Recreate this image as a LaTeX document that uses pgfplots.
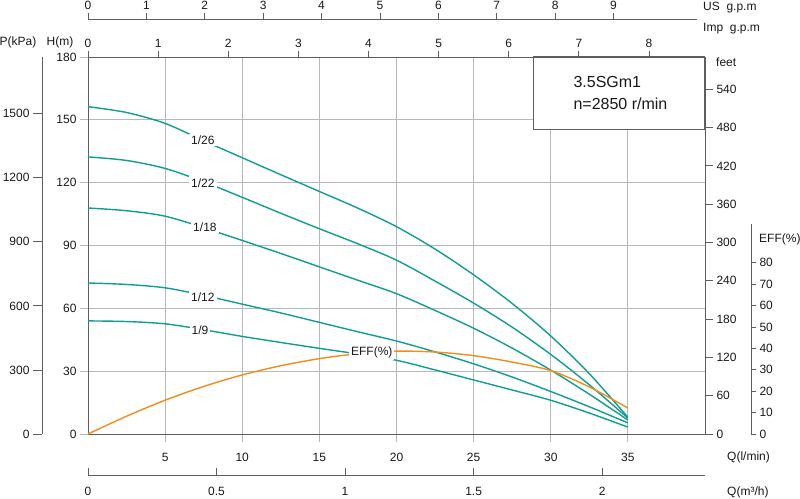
\documentclass[border=0pt]{standalone}
\usepackage{pgfplots}
\pgfplotsset{compat=1.18}
\usepackage{fontspec}
\setmainfont{Liberation Sans}
\definecolor{tealc}{RGB}{16,158,142}
\definecolor{orng}{RGB}{242,140,28}
\definecolor{axgray}{RGB}{95,95,95}
\definecolor{gridgray}{RGB}{185,185,185}
\definecolor{txt}{RGB}{25,25,25}
\begin{document}
\begin{tikzpicture}[font=\fontsize{12}{14}\selectfont, text=txt]
\useasboundingbox (-88pt,-64pt) rectangle (712pt,434pt);
\pgfplotsset{
  base/.style={scale only axis, width=617pt, height=377pt, at={(0pt,0pt)}, anchor=south west,
    /pgf/number format/assume math mode=true,
    /pgf/number format/1000 sep={},
    tick style={axgray, line width=0.8pt},
    axis line style={axgray, line width=0.9pt, -},
    ticklabel style={font=\fontsize{12}{14}\selectfont, text=txt},
    tick align=outside, major tick length=6pt},
}
% main axis (H)
\begin{axis}[base, xmin=0, xmax=40, ymin=0, ymax=180,
  xtick={5,10,...,35}, ytick={0,30,...,180},
  xtick pos=bottom, ytick pos=left,
  major tick length=8pt,
  xticklabel style={yshift=-8pt},
  tick style={gridgray, line width=0.8pt},
  grid=major, grid style={gridgray, line width=0.8pt},
  clip=false]
% 1/26
\addplot[tealc, line width=1.4pt, smooth] coordinates {(0,156.3) (2.5,153.5) (5,148.3) (7.5,140.0) (10,131.9) (12.5,123.8) (15,115.8) (17.5,107.8) (20,99.0) (22.5,88.3) (25,76.0) (27.5,62.3) (30,46.8) (32.5,28.8) (35,8.0)};
% 1/22
\addplot[tealc, line width=1.4pt, smooth] coordinates {(0,132.3) (2.5,130.6) (5,126.8) (7.5,120.4) (10,113.0) (12.5,105.4) (15,98.0) (17.5,90.8) (20,83.0) (22.5,73.0) (25,62.5) (27.5,51.0) (30,38.0) (32.5,23.5) (35,7.6)};
% 1/18
\addplot[tealc, line width=1.4pt, smooth] coordinates {(0,107.9) (2.5,106.6) (5,104.0) (7.5,98.5) (10,92.4) (12.5,86.2) (15,79.8) (17.5,73.4) (20,67.0) (22.5,59.0) (25,50.5) (27.5,41.0) (30,30.5) (32.5,19.0) (35,6.7)};
% 1/12
\addplot[tealc, line width=1.4pt, smooth] coordinates {(0,72.1) (2.5,71.4) (5,69.8) (7.5,66.2) (10,62.0) (12.5,57.8) (15,53.3) (17.5,48.8) (20,44.4) (22.5,39.2) (25,33.5) (27.5,27.2) (30,20.3) (32.5,13.0) (35,5.3)};
% 1/9
\addplot[tealc, line width=1.4pt, smooth] coordinates {(0,54.0) (2.5,53.7) (5,52.6) (7.5,49.8) (10,46.6) (12.5,43.7) (15,40.9) (17.5,38.2) (20,35.2) (22.5,30.6) (25,25.8) (27.5,21.0) (30,16.1) (32.5,10.0) (35,3.3)};
\node[fill=white, inner sep=2pt] at (axis cs:7.45,140.4) {1/26};
\node[fill=white, inner sep=2pt] at (axis cs:7.45,119.9) {1/22};
\node[fill=white, inner sep=2pt] at (axis cs:7.58,98.9) {1/18};
\node[fill=white, inner sep=2pt] at (axis cs:7.45,65.4) {1/12};
\node[fill=white, inner sep=2pt] at (axis cs:7.26,49.7) {1/9};
\end{axis}
% info box
\draw[axgray, line width=0.8pt, fill=white] (445pt,305pt) rectangle (616pt,378pt);
\node[anchor=west, font=\fontsize{16}{20}\selectfont] at (482pt,352pt) {3.5SGm1};
\node[anchor=west, font=\fontsize{16}{20}\selectfont] at (482pt,330pt) {n=2850 r/min};
% EFF axis
\begin{axis}[base, width=663pt, height=210pt, xmin=0, xmax=42.982, ymin=0, ymax=98.1,
  axis y line*=right, hide x axis, ytick={0,10,...,80}, major tick length=5pt, clip=false]
\addplot[orng, line width=1.4pt, smooth] coordinates {(0,0) (2.5,8.3) (5,15.8) (7.5,22.2) (10,27.6) (12.5,31.9) (15,35.2) (17.5,37.5) (20,38.7) (22.5,38.3) (25,36.6) (27.5,33.6) (30,29.6) (32.5,22.0) (35,12.1)};
\node[fill=white, inner sep=2pt] at (axis cs:18.4,38.3) {EFF(\%)};
\end{axis}
% feet axis
\begin{axis}[base, xmin=0, xmax=40, ymin=0, ymax=590.55,
  axis y line*=right, hide x axis, ytick={0,60,...,540}, major tick length=8pt]
\end{axis}
% P axis
\begin{axis}[base, width=663pt, at={(-46pt,0pt)}, xmin=0, xmax=1, ymin=0, ymax=1765.8,
  axis y line*=left, hide x axis, ytick={0,300,...,1500}, major tick length=9pt]
\end{axis}
% Imp gpm axis
\begin{axis}[base, xmin=0, xmax=8.799, ymin=0, ymax=1,
  axis x line*=top, hide y axis, xtick={0,1,...,8}]
\end{axis}
% US gpm axis
\begin{axis}[base, width=609pt, height=415pt, xmin=0, xmax=10.43, ymin=0, ymax=1,
  axis x line*=top, hide y axis, xtick={0,1,...,9}]
\end{axis}
% m3/h axis
\begin{axis}[base, height=418pt, at={(0pt,-41pt)}, xmin=0, xmax=2.4, ymin=0, ymax=1,
  axis x line*=bottom, hide y axis, xtick={0,0.5,...,2}, tick align=inside, major tick length=7pt,
  xticklabel style={yshift=-9pt}]
\end{axis}
% axis labels
\node[anchor=west, inner sep=0pt] at (-88.5pt,392pt) {P(kPa)};
\node at (-28pt,392pt) {H(m)};
\node[anchor=west, inner sep=0pt] at (615pt,426pt) {US\ \ g.p.m};
\node[anchor=west, inner sep=0pt] at (615pt,405pt) {Imp\ \ g.p.m};
\node[anchor=west, inner sep=0pt] at (628pt,372pt) {feet};
\node[anchor=west, inner sep=0pt] at (671pt,195pt) {EFF(\%)};
\node[anchor=west, inner sep=0pt] at (639pt,-23pt) {Q(l/min)};
\node[anchor=west, inner sep=0pt] at (639pt,-58pt) {Q(m³/h)};
\end{tikzpicture}
\end{document}
